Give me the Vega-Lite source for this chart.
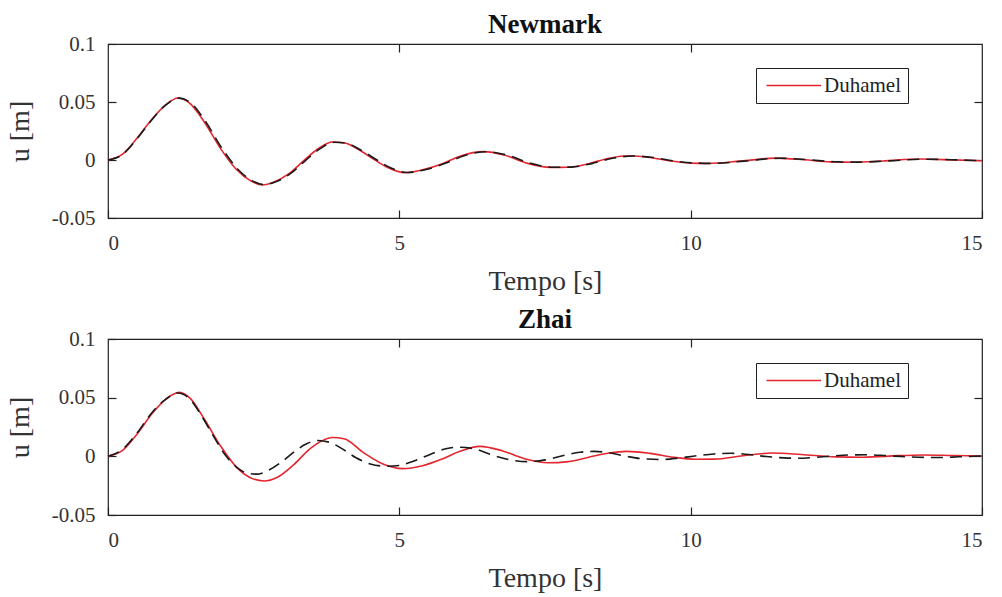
{
  "$schema": "https://vega.github.io/schema/vega-lite/v6.json",
  "background": "white",
  "padding": {"left": 5, "top": 10, "right": 10, "bottom": 5},
  "config": {
    "font": "Liberation Serif",
    "view": {"stroke": "#222", "strokeWidth": 1.2},
    "axis": {"grid": false, "domain": false, "tickColor": "#222", "tickSize": -8, "tickWidth": 1.2,
      "labelFont": "Liberation Serif", "labelFontSize": 21, "labelColor": "#333",
      "titleFont": "Liberation Serif", "titleFontSize": 28, "titleFontWeight": "normal", "titleColor": "#333"},
    "title": {"font": "Liberation Serif", "fontSize": 27, "fontWeight": "bold", "color": "#111", "offset": -6},
    "legend": {"orient": "none", "legendX": 648, "legendY": 24, "symbolType": "M-1,0H6.8", "symbolSize": 196,
      "symbolStrokeWidth": 1.6, "strokeColor": "#222", "fillColor": "white", "padding": 7,
      "labelFont": "Liberation Serif", "labelFontSize": 21, "labelColor": "#222", "labelOffset": 40}
  },
  "datasets": {
    "d": [
      {"panel": "Newmark", "series": "Duhamel", "t": 0, "u": 0},
      {"panel": "Newmark", "series": "Duhamel", "t": 0.25, "u": 0.005},
      {"panel": "Newmark", "series": "Duhamel", "t": 0.5, "u": 0.019},
      {"panel": "Newmark", "series": "Duhamel", "t": 0.75, "u": 0.035},
      {"panel": "Newmark", "series": "Duhamel", "t": 1.0, "u": 0.048},
      {"panel": "Newmark", "series": "Duhamel", "t": 1.2, "u": 0.0535},
      {"panel": "Newmark", "series": "Duhamel", "t": 1.4, "u": 0.049},
      {"panel": "Newmark", "series": "Duhamel", "t": 1.65, "u": 0.033},
      {"panel": "Newmark", "series": "Duhamel", "t": 1.93, "u": 0.01},
      {"panel": "Newmark", "series": "Duhamel", "t": 2.2, "u": -0.008},
      {"panel": "Newmark", "series": "Duhamel", "t": 2.45, "u": -0.018},
      {"panel": "Newmark", "series": "Duhamel", "t": 2.65, "u": -0.0215},
      {"panel": "Newmark", "series": "Duhamel", "t": 2.85, "u": -0.019},
      {"panel": "Newmark", "series": "Duhamel", "t": 3.1, "u": -0.012},
      {"panel": "Newmark", "series": "Duhamel", "t": 3.35, "u": -0.001},
      {"panel": "Newmark", "series": "Duhamel", "t": 3.6, "u": 0.0095},
      {"panel": "Newmark", "series": "Duhamel", "t": 3.85, "u": 0.0155},
      {"panel": "Newmark", "series": "Duhamel", "t": 4.05, "u": 0.0148},
      {"panel": "Newmark", "series": "Duhamel", "t": 4.3, "u": 0.009},
      {"panel": "Newmark", "series": "Duhamel", "t": 4.55, "u": 0.001},
      {"panel": "Newmark", "series": "Duhamel", "t": 4.8, "u": -0.0065},
      {"panel": "Newmark", "series": "Duhamel", "t": 5.1, "u": -0.011},
      {"panel": "Newmark", "series": "Duhamel", "t": 5.4, "u": -0.0085},
      {"panel": "Newmark", "series": "Duhamel", "t": 5.75, "u": -0.003},
      {"panel": "Newmark", "series": "Duhamel", "t": 6.05, "u": 0.0035},
      {"panel": "Newmark", "series": "Duhamel", "t": 6.45, "u": 0.0072},
      {"panel": "Newmark", "series": "Duhamel", "t": 6.8, "u": 0.0043},
      {"panel": "Newmark", "series": "Duhamel", "t": 7.2, "u": -0.0029},
      {"panel": "Newmark", "series": "Duhamel", "t": 7.6, "u": -0.0064},
      {"panel": "Newmark", "series": "Duhamel", "t": 7.9, "u": -0.0062},
      {"panel": "Newmark", "series": "Duhamel", "t": 8.25, "u": -0.0032},
      {"panel": "Newmark", "series": "Duhamel", "t": 8.6, "u": 0.0015},
      {"panel": "Newmark", "series": "Duhamel", "t": 8.95, "u": 0.0036},
      {"panel": "Newmark", "series": "Duhamel", "t": 9.3, "u": 0.0022},
      {"panel": "Newmark", "series": "Duhamel", "t": 9.65, "u": -0.0008},
      {"panel": "Newmark", "series": "Duhamel", "t": 10.0, "u": -0.0027},
      {"panel": "Newmark", "series": "Duhamel", "t": 10.3, "u": -0.003},
      {"panel": "Newmark", "series": "Duhamel", "t": 10.85, "u": -0.001},
      {"panel": "Newmark", "series": "Duhamel", "t": 11.45, "u": 0.0016},
      {"panel": "Newmark", "series": "Duhamel", "t": 11.95, "u": 0.0002},
      {"panel": "Newmark", "series": "Duhamel", "t": 12.4, "u": -0.0016},
      {"panel": "Newmark", "series": "Duhamel", "t": 12.8, "u": -0.0019},
      {"panel": "Newmark", "series": "Duhamel", "t": 13.3, "u": -0.0008},
      {"panel": "Newmark", "series": "Duhamel", "t": 13.95, "u": 0.0008},
      {"panel": "Newmark", "series": "Duhamel", "t": 14.5, "u": 0.0001},
      {"panel": "Newmark", "series": "Duhamel", "t": 15.0, "u": -0.0007},

      {"panel": "Newmark", "series": "Newmark", "t": 0, "u": 0},
      {"panel": "Newmark", "series": "Newmark", "t": 0.25, "u": 0.0048},
      {"panel": "Newmark", "series": "Newmark", "t": 0.5, "u": 0.0185},
      {"panel": "Newmark", "series": "Newmark", "t": 0.75, "u": 0.0345},
      {"panel": "Newmark", "series": "Newmark", "t": 1.0, "u": 0.0478},
      {"panel": "Newmark", "series": "Newmark", "t": 1.22, "u": 0.0533},
      {"panel": "Newmark", "series": "Newmark", "t": 1.42, "u": 0.0492},
      {"panel": "Newmark", "series": "Newmark", "t": 1.67, "u": 0.0335},
      {"panel": "Newmark", "series": "Newmark", "t": 1.95, "u": 0.0105},
      {"panel": "Newmark", "series": "Newmark", "t": 2.22, "u": -0.0075},
      {"panel": "Newmark", "series": "Newmark", "t": 2.47, "u": -0.0178},
      {"panel": "Newmark", "series": "Newmark", "t": 2.68, "u": -0.0212},
      {"panel": "Newmark", "series": "Newmark", "t": 2.88, "u": -0.0188},
      {"panel": "Newmark", "series": "Newmark", "t": 3.13, "u": -0.0118},
      {"panel": "Newmark", "series": "Newmark", "t": 3.38, "u": -0.0009},
      {"panel": "Newmark", "series": "Newmark", "t": 3.63, "u": 0.0094},
      {"panel": "Newmark", "series": "Newmark", "t": 3.88, "u": 0.0153},
      {"panel": "Newmark", "series": "Newmark", "t": 4.08, "u": 0.0146},
      {"panel": "Newmark", "series": "Newmark", "t": 4.33, "u": 0.0089},
      {"panel": "Newmark", "series": "Newmark", "t": 4.58, "u": 0.0011},
      {"panel": "Newmark", "series": "Newmark", "t": 4.84, "u": -0.0064},
      {"panel": "Newmark", "series": "Newmark", "t": 5.14, "u": -0.0108},
      {"panel": "Newmark", "series": "Newmark", "t": 5.44, "u": -0.0084},
      {"panel": "Newmark", "series": "Newmark", "t": 5.79, "u": -0.0029},
      {"panel": "Newmark", "series": "Newmark", "t": 6.1, "u": 0.0035},
      {"panel": "Newmark", "series": "Newmark", "t": 6.5, "u": 0.0071},
      {"panel": "Newmark", "series": "Newmark", "t": 6.85, "u": 0.0042},
      {"panel": "Newmark", "series": "Newmark", "t": 7.25, "u": -0.0028},
      {"panel": "Newmark", "series": "Newmark", "t": 7.65, "u": -0.0063},
      {"panel": "Newmark", "series": "Newmark", "t": 7.95, "u": -0.0061},
      {"panel": "Newmark", "series": "Newmark", "t": 8.3, "u": -0.0031},
      {"panel": "Newmark", "series": "Newmark", "t": 8.66, "u": 0.0015},
      {"panel": "Newmark", "series": "Newmark", "t": 9.01, "u": 0.0035},
      {"panel": "Newmark", "series": "Newmark", "t": 9.36, "u": 0.0021},
      {"panel": "Newmark", "series": "Newmark", "t": 9.71, "u": -0.0008},
      {"panel": "Newmark", "series": "Newmark", "t": 10.06, "u": -0.0026},
      {"panel": "Newmark", "series": "Newmark", "t": 10.37, "u": -0.0029},
      {"panel": "Newmark", "series": "Newmark", "t": 10.92, "u": -0.001},
      {"panel": "Newmark", "series": "Newmark", "t": 11.52, "u": 0.0015},
      {"panel": "Newmark", "series": "Newmark", "t": 12.02, "u": 0.0002},
      {"panel": "Newmark", "series": "Newmark", "t": 12.47, "u": -0.0015},
      {"panel": "Newmark", "series": "Newmark", "t": 12.88, "u": -0.0018},
      {"panel": "Newmark", "series": "Newmark", "t": 13.38, "u": -0.0008},
      {"panel": "Newmark", "series": "Newmark", "t": 14.03, "u": 0.0007},
      {"panel": "Newmark", "series": "Newmark", "t": 14.58, "u": 0.0001},
      {"panel": "Newmark", "series": "Newmark", "t": 15.0, "u": -0.0006},

      {"panel": "Zhai", "series": "Duhamel", "t": 0, "u": 0},
      {"panel": "Zhai", "series": "Duhamel", "t": 0.25, "u": 0.005},
      {"panel": "Zhai", "series": "Duhamel", "t": 0.5, "u": 0.019},
      {"panel": "Zhai", "series": "Duhamel", "t": 0.75, "u": 0.036},
      {"panel": "Zhai", "series": "Duhamel", "t": 1.0, "u": 0.049},
      {"panel": "Zhai", "series": "Duhamel", "t": 1.22, "u": 0.0545},
      {"panel": "Zhai", "series": "Duhamel", "t": 1.42, "u": 0.049},
      {"panel": "Zhai", "series": "Duhamel", "t": 1.65, "u": 0.032},
      {"panel": "Zhai", "series": "Duhamel", "t": 1.93, "u": 0.009},
      {"panel": "Zhai", "series": "Duhamel", "t": 2.22, "u": -0.01},
      {"panel": "Zhai", "series": "Duhamel", "t": 2.48, "u": -0.019},
      {"panel": "Zhai", "series": "Duhamel", "t": 2.68, "u": -0.021},
      {"panel": "Zhai", "series": "Duhamel", "t": 2.9, "u": -0.018},
      {"panel": "Zhai", "series": "Duhamel", "t": 3.19, "u": -0.007},
      {"panel": "Zhai", "series": "Duhamel", "t": 3.48, "u": 0.007},
      {"panel": "Zhai", "series": "Duhamel", "t": 3.85, "u": 0.016},
      {"panel": "Zhai", "series": "Duhamel", "t": 4.05, "u": 0.015},
      {"panel": "Zhai", "series": "Duhamel", "t": 4.39, "u": 0.003},
      {"panel": "Zhai", "series": "Duhamel", "t": 4.74, "u": -0.007},
      {"panel": "Zhai", "series": "Duhamel", "t": 5.05, "u": -0.0105},
      {"panel": "Zhai", "series": "Duhamel", "t": 5.4, "u": -0.008},
      {"panel": "Zhai", "series": "Duhamel", "t": 5.75, "u": -0.002},
      {"panel": "Zhai", "series": "Duhamel", "t": 6.05, "u": 0.0045},
      {"panel": "Zhai", "series": "Duhamel", "t": 6.38, "u": 0.0085},
      {"panel": "Zhai", "series": "Duhamel", "t": 6.75, "u": 0.005},
      {"panel": "Zhai", "series": "Duhamel", "t": 7.15, "u": -0.002},
      {"panel": "Zhai", "series": "Duhamel", "t": 7.55, "u": -0.0055},
      {"panel": "Zhai", "series": "Duhamel", "t": 7.9, "u": -0.0045},
      {"panel": "Zhai", "series": "Duhamel", "t": 8.25, "u": -0.0008},
      {"panel": "Zhai", "series": "Duhamel", "t": 8.6, "u": 0.0028},
      {"panel": "Zhai", "series": "Duhamel", "t": 8.9, "u": 0.0042},
      {"panel": "Zhai", "series": "Duhamel", "t": 9.3, "u": 0.0025},
      {"panel": "Zhai", "series": "Duhamel", "t": 9.7, "u": -0.0008},
      {"panel": "Zhai", "series": "Duhamel", "t": 10.1, "u": -0.0025},
      {"panel": "Zhai", "series": "Duhamel", "t": 10.4, "u": -0.0024},
      {"panel": "Zhai", "series": "Duhamel", "t": 10.9, "u": 0.0005},
      {"panel": "Zhai", "series": "Duhamel", "t": 11.4, "u": 0.0028},
      {"panel": "Zhai", "series": "Duhamel", "t": 11.9, "u": 0.0015},
      {"panel": "Zhai", "series": "Duhamel", "t": 12.5, "u": -0.0005},
      {"panel": "Zhai", "series": "Duhamel", "t": 12.9, "u": -0.0008},
      {"panel": "Zhai", "series": "Duhamel", "t": 13.4, "u": 0.0002},
      {"panel": "Zhai", "series": "Duhamel", "t": 14.0, "u": 0.0012},
      {"panel": "Zhai", "series": "Duhamel", "t": 14.5, "u": 0.0007},
      {"panel": "Zhai", "series": "Duhamel", "t": 15.0, "u": 0.0002},

      {"panel": "Zhai", "series": "Zhai", "t": 0, "u": 0},
      {"panel": "Zhai", "series": "Zhai", "t": 0.25, "u": 0.006},
      {"panel": "Zhai", "series": "Zhai", "t": 0.5, "u": 0.02},
      {"panel": "Zhai", "series": "Zhai", "t": 0.75, "u": 0.037},
      {"panel": "Zhai", "series": "Zhai", "t": 1.0, "u": 0.049},
      {"panel": "Zhai", "series": "Zhai", "t": 1.2, "u": 0.054},
      {"panel": "Zhai", "series": "Zhai", "t": 1.4, "u": 0.049},
      {"panel": "Zhai", "series": "Zhai", "t": 1.6, "u": 0.035},
      {"panel": "Zhai", "series": "Zhai", "t": 1.8, "u": 0.018},
      {"panel": "Zhai", "series": "Zhai", "t": 2.0, "u": 0.002},
      {"panel": "Zhai", "series": "Zhai", "t": 2.2, "u": -0.009},
      {"panel": "Zhai", "series": "Zhai", "t": 2.4, "u": -0.0145},
      {"panel": "Zhai", "series": "Zhai", "t": 2.55, "u": -0.0152},
      {"panel": "Zhai", "series": "Zhai", "t": 2.75, "u": -0.012},
      {"panel": "Zhai", "series": "Zhai", "t": 3.0, "u": -0.004},
      {"panel": "Zhai", "series": "Zhai", "t": 3.2, "u": 0.004},
      {"panel": "Zhai", "series": "Zhai", "t": 3.4, "u": 0.0105},
      {"panel": "Zhai", "series": "Zhai", "t": 3.6, "u": 0.0135},
      {"panel": "Zhai", "series": "Zhai", "t": 3.8, "u": 0.012},
      {"panel": "Zhai", "series": "Zhai", "t": 4.0, "u": 0.007},
      {"panel": "Zhai", "series": "Zhai", "t": 4.25, "u": -0.001},
      {"panel": "Zhai", "series": "Zhai", "t": 4.5, "u": -0.0065},
      {"panel": "Zhai", "series": "Zhai", "t": 4.8, "u": -0.0085},
      {"panel": "Zhai", "series": "Zhai", "t": 5.0, "u": -0.0078},
      {"panel": "Zhai", "series": "Zhai", "t": 5.25, "u": -0.004},
      {"panel": "Zhai", "series": "Zhai", "t": 5.5, "u": 0.001},
      {"panel": "Zhai", "series": "Zhai", "t": 5.8, "u": 0.0065},
      {"panel": "Zhai", "series": "Zhai", "t": 6.05, "u": 0.0078},
      {"panel": "Zhai", "series": "Zhai", "t": 6.3, "u": 0.0062},
      {"panel": "Zhai", "series": "Zhai", "t": 6.6, "u": 0.001},
      {"panel": "Zhai", "series": "Zhai", "t": 6.9, "u": -0.003},
      {"panel": "Zhai", "series": "Zhai", "t": 7.2, "u": -0.0045},
      {"panel": "Zhai", "series": "Zhai", "t": 7.5, "u": -0.003},
      {"panel": "Zhai", "series": "Zhai", "t": 7.8, "u": 0.0005},
      {"panel": "Zhai", "series": "Zhai", "t": 8.1, "u": 0.0035},
      {"panel": "Zhai", "series": "Zhai", "t": 8.35, "u": 0.0042},
      {"panel": "Zhai", "series": "Zhai", "t": 8.6, "u": 0.003},
      {"panel": "Zhai", "series": "Zhai", "t": 8.9, "u": 0.0},
      {"panel": "Zhai", "series": "Zhai", "t": 9.2, "u": -0.0022},
      {"panel": "Zhai", "series": "Zhai", "t": 9.5, "u": -0.0027},
      {"panel": "Zhai", "series": "Zhai", "t": 9.8, "u": -0.0015},
      {"panel": "Zhai", "series": "Zhai", "t": 10.1, "u": 0.0005},
      {"panel": "Zhai", "series": "Zhai", "t": 10.4, "u": 0.002},
      {"panel": "Zhai", "series": "Zhai", "t": 10.7, "u": 0.0026},
      {"panel": "Zhai", "series": "Zhai", "t": 11.0, "u": 0.0015},
      {"panel": "Zhai", "series": "Zhai", "t": 11.3, "u": -0.0002},
      {"panel": "Zhai", "series": "Zhai", "t": 11.6, "u": -0.0013},
      {"panel": "Zhai", "series": "Zhai", "t": 11.85, "u": -0.0016},
      {"panel": "Zhai", "series": "Zhai", "t": 12.1, "u": -0.001},
      {"panel": "Zhai", "series": "Zhai", "t": 12.4, "u": 0.0002},
      {"panel": "Zhai", "series": "Zhai", "t": 12.7, "u": 0.0011},
      {"panel": "Zhai", "series": "Zhai", "t": 13.05, "u": 0.0013},
      {"panel": "Zhai", "series": "Zhai", "t": 13.35, "u": 0.0006},
      {"panel": "Zhai", "series": "Zhai", "t": 13.7, "u": -0.0004},
      {"panel": "Zhai", "series": "Zhai", "t": 14.0, "u": -0.0009},
      {"panel": "Zhai", "series": "Zhai", "t": 14.3, "u": -0.001},
      {"panel": "Zhai", "series": "Zhai", "t": 14.6, "u": -0.0004},
      {"panel": "Zhai", "series": "Zhai", "t": 15.0, "u": 0.0003}
    ]
  },
  "spacing": 9,
  "resolve": {"scale": {"color": "independent"}, "legend": {"color": "independent"}},
  "vconcat": [
    {
      "title": "Newmark",
      "width": 874, "height": 174,
      "data": {"name": "d"},
      "transform": [{"filter": "datum.panel === 'Newmark'"}],
      "resolve": {"axis": {"x": "independent", "y": "independent"}},
      "layer": [
        {
          "transform": [{"filter": "datum.series === 'Duhamel'"}],
          "mark": {"type": "line", "interpolate": "monotone", "strokeWidth": 1.6},
          "encoding": {
            "x": {"field": "t", "type": "quantitative", "scale": {"domain": [0, 15], "nice": false},
              "axis": {"values": [0, 5, 10, 15], "title": "Tempo [s]", "labelPadding": 22, "titlePadding": 14}},
            "y": {"field": "u", "type": "quantitative", "scale": {"domain": [-0.05, 0.1], "nice": false, "zero": false},
              "axis": {"values": [-0.05, 0, 0.05, 0.1], "labelExpr": "'' + datum.value", "title": "u [m]", "labelPadding": 21, "titlePadding": 17}},
            "color": {"field": "series", "type": "nominal", "scale": {"domain": ["Duhamel"], "range": ["#e3262f"]}, "legend": {"title": null}}
          }
        },
        {
          "transform": [{"filter": "datum.series !== 'Duhamel'"}],
          "mark": {"type": "line", "interpolate": "monotone", "strokeWidth": 1.6, "strokeDash": [12, 7], "color": "#1a1a1a"},
          "encoding": {
            "x": {"field": "t", "type": "quantitative", "scale": {"domain": [0, 15], "nice": false},
              "axis": {"orient": "top", "values": [5, 10], "labels": false, "title": null}},
            "y": {"field": "u", "type": "quantitative", "scale": {"domain": [-0.05, 0.1], "nice": false, "zero": false},
              "axis": {"orient": "right", "values": [0, 0.05], "labels": false, "title": null}}
          }
        }
      ]
    },
    {
      "title": "Zhai",
      "width": 874, "height": 176,
      "data": {"name": "d"},
      "transform": [{"filter": "datum.panel === 'Zhai'"}],
      "resolve": {"axis": {"x": "independent", "y": "independent"}},
      "layer": [
        {
          "transform": [{"filter": "datum.series === 'Duhamel'"}],
          "mark": {"type": "line", "interpolate": "monotone", "strokeWidth": 1.6},
          "encoding": {
            "x": {"field": "t", "type": "quantitative", "scale": {"domain": [0, 15], "nice": false},
              "axis": {"values": [0, 5, 10, 15], "title": "Tempo [s]", "labelPadding": 22, "titlePadding": 14}},
            "y": {"field": "u", "type": "quantitative", "scale": {"domain": [-0.05, 0.1], "nice": false, "zero": false},
              "axis": {"values": [-0.05, 0, 0.05, 0.1], "labelExpr": "'' + datum.value", "title": "u [m]", "labelPadding": 21, "titlePadding": 17}},
            "color": {"field": "series", "type": "nominal", "scale": {"domain": ["Duhamel"], "range": ["#e3262f"]}, "legend": {"title": null}}
          }
        },
        {
          "transform": [{"filter": "datum.series !== 'Duhamel'"}],
          "mark": {"type": "line", "interpolate": "monotone", "strokeWidth": 1.6, "strokeDash": [12, 7], "color": "#1a1a1a"},
          "encoding": {
            "x": {"field": "t", "type": "quantitative", "scale": {"domain": [0, 15], "nice": false},
              "axis": {"orient": "top", "values": [5, 10], "labels": false, "title": null}},
            "y": {"field": "u", "type": "quantitative", "scale": {"domain": [-0.05, 0.1], "nice": false, "zero": false},
              "axis": {"orient": "right", "values": [0, 0.05], "labels": false, "title": null}}
          }
        }
      ]
    }
  ]
}
